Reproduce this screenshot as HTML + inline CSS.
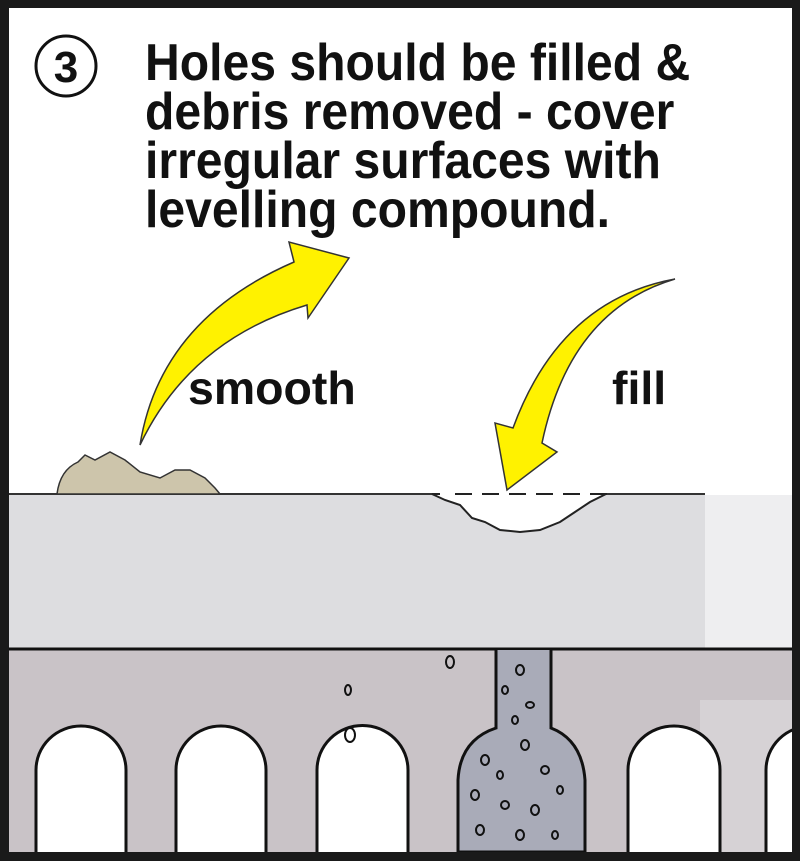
<!DOCTYPE html>
<html><head><meta charset="utf-8"><style>
html,body{margin:0;padding:0;background:#fff}
.w{position:relative;width:800px;height:861px;overflow:hidden}
.t{position:absolute;left:145px;font-family:"Liberation Sans",sans-serif;font-weight:bold;font-size:52px;color:#111;white-space:nowrap;transform-origin:0 0;transform:scaleX(0.925);line-height:49px}
</style></head><body><div class="w">
<svg width="800" height="861" style="position:absolute;left:0;top:0">
<rect x="0" y="0" width="800" height="861" fill="#fff"/>
<rect x="9" y="495" width="783" height="153" fill="#dddde0"/>
<rect x="705" y="495" width="87" height="153" fill="#eeeef0"/>
<line x1="9" y1="494" x2="705" y2="494" stroke="#333" stroke-width="2"/>
<path d="M432,494 L445,500 L460,505 L472,518 L485,522 L500,530 L520,532 L540,530 L560,522 L575,512 L590,502 L606,494 Z" fill="#fff" stroke="#222" stroke-width="2"/>
<rect x="440" y="488" width="164" height="7" fill="#fff"/>
<line x1="455" y1="494" x2="610" y2="494" stroke="#222" stroke-width="2" stroke-dasharray="17,10"/>
<rect x="9" y="650" width="783" height="202" fill="#c9c3c7"/>
<rect x="700" y="700" width="92" height="152" fill="#d6d2d5"/>
<line x1="9" y1="649" x2="792" y2="649" stroke="#111" stroke-width="3"/>
<g fill="#fff" stroke="#111" stroke-width="3">
<path d="M36,852 V770 A45,44 0 0 1 126,770 V852"/>
<path d="M176,852 V770 A45,44 0 0 1 266,770 V852"/>
<path d="M317,852 V770 A45,44 0 0 1 408,770 V852"/>
<path d="M628,852 V770 A46,44 0 0 1 720,770 V852"/>
<path d="M766,852 V770 A45,44 0 0 1 856,770 V852"/>
<path d="M496,650 V728 Q460,740 458,780 V852 H585 V780 Q582,740 551,728 V650" fill="#a9abb8"/>
</g>
<g fill="none" stroke="#111" stroke-width="2">
<ellipse cx="520" cy="670" rx="4" ry="5"/><ellipse cx="505" cy="690" rx="3" ry="4"/><ellipse cx="530" cy="705" rx="4" ry="3"/>
<ellipse cx="515" cy="720" rx="3" ry="4"/><ellipse cx="525" cy="745" rx="4" ry="5"/><ellipse cx="485" cy="760" rx="4" ry="5"/>
<ellipse cx="500" cy="775" rx="3" ry="4"/><ellipse cx="545" cy="770" rx="4" ry="4"/><ellipse cx="475" cy="795" rx="4" ry="5"/>
<ellipse cx="505" cy="805" rx="4" ry="4"/><ellipse cx="535" cy="810" rx="4" ry="5"/><ellipse cx="560" cy="790" rx="3" ry="4"/>
<ellipse cx="480" cy="830" rx="4" ry="5"/><ellipse cx="520" cy="835" rx="4" ry="5"/><ellipse cx="555" cy="835" rx="3" ry="4"/>
<ellipse cx="450" cy="662" rx="4" ry="6"/><ellipse cx="348" cy="690" rx="3" ry="5"/><ellipse cx="350" cy="735" rx="5" ry="7"/>
</g>
<path d="M57,494 Q60,470 78,462 L85,455 L95,460 L110,452 L125,460 L140,472 L160,478 L175,470 L190,470 L205,478 L215,488 L220,494 Z" fill="#cdc5ab" stroke="#333" stroke-width="1.5"/>
<path d="M140,445 Q160,320 294,262 L289,242 L349,258 L308,318 L307,305 Q190,340 140,445 Z" fill="#fff200" stroke="#333" stroke-width="1.5"/>
<path d="M675,279 Q570,310 542,443 L557,452 L507,490 L495,423 L513,428 Q560,300 675,279 Z" fill="#fff200" stroke="#333" stroke-width="1.5"/>
<circle cx="66" cy="66" r="30" fill="#fff" stroke="#111" stroke-width="3"/>
<text x="66" y="82" text-anchor="middle" font-family="Liberation Sans,sans-serif" font-weight="bold" font-size="44" fill="#111">3</text>
<path d="M0,0 H800 V861 H0 Z M9,8 V852 H792 V8 Z" fill="#1a1a1a" fill-rule="evenodd"/>
</svg>
<div class="t" style="top:39px">Holes should be filled &amp;<br>debris removed - cover<br>irregular surfaces with<br>levelling compound.</div>
<div class="t" style="top:364px;left:188px;font-size:46px;transform:scaleX(1.01)">smooth</div>
<div class="t" style="top:364px;left:612px;font-size:46px;transform:scaleX(1.01)">fill</div>
</div></body></html>
